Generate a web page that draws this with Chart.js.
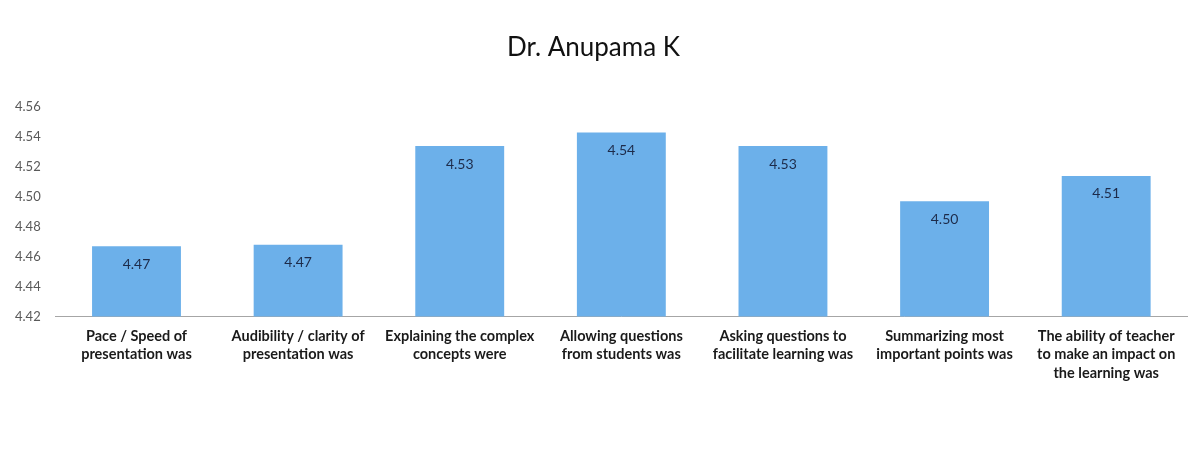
<!DOCTYPE html>
<html>
<head>
<meta charset="utf-8">
<script src="https://cdn.jsdelivr.net/npm/chart.js@4"></script>
<style>
  html, body { margin: 0; padding: 0; background: #fff; }
  #wrap { width: 1201px; height: 471px; }
</style>
</head>
<body>
<div id="wrap"><canvas id="chart" width="1201" height="471"></canvas></div>
<script>
/* ===== data ===== */
var titleText = "Dr. Anupama K";
var categories = [
    ["Pace / Speed of", "presentation was"],
    ["Audibility / clarity of", "presentation was"],
    ["Explaining the complex", "concepts were"],
    ["Allowing questions", "from students was"],
    ["Asking questions to", "facilitate learning was"],
    ["Summarizing most", "important points was"],
    ["The ability of teacher", "to make an impact on", "the learning was"]
];
var scores = [4.467, 4.468, 4.534, 4.543, 4.534, 4.497, 4.514];
var yMin = 4.42;
var yMax = 4.56;
var yStep = 0.02;

/* ===== value labels inside the bars ===== */
var valueLabels = {
    id: 'valueLabels',
    afterDatasetsDraw: function(chart) {
        var ctx = chart.ctx;
        var meta = chart.getDatasetMeta(0);
        ctx.save();
        ctx.font = '14px Lato, "Noto Sans", sans-serif';
        ctx.fillStyle = '#1d2b4a';
        ctx.textAlign = 'center';
        ctx.textBaseline = 'middle';
        meta.data.forEach(function(bar, i) {
            ctx.fillText(scores[i].toFixed(2), bar.x, bar.y + 18);
        });
        ctx.restore();
    }
};

var ctx = document.getElementById("chart");
var chart = new Chart(ctx, {
    type: 'bar',
    data: {
        labels: categories,
        datasets: [{
            label: titleText,
            data: scores,
            backgroundColor: '#6cb0ea',
            borderWidth: 0,
            barPercentage: 0.55,
            categoryPercentage: 1.0
        }]
    },
    options: {
        responsive: false,
        animation: false,
        layout: { padding: { left: 0, right: 14, top: 32, bottom: 78 } },
        plugins: {
            legend: { display: false },
            tooltip: { enabled: false },
            title: {
                display: true,
                text: titleText,
                color: '#111',
                font: { family: 'Lato, "Noto Sans", sans-serif', size: 26, weight: 'normal' },
                padding: { top: 0, bottom: 44 }
            }
        },
        scales: {
            x: {
                grid: { display: false, drawTicks: false },
                border: { display: true, color: '#a6a6a6', width: 1 },
                ticks: {
                    color: '#1a1a1a',
                    font: { family: 'Lato, "Noto Sans", sans-serif', size: 14.5, weight: 'bold', lineHeight: 1.3 },
                    maxRotation: 0,
                    autoSkip: false,
                    padding: 10
                }
            },
            y: {
                min: yMin,
                max: yMax,
                grid: { display: false, drawTicks: false },
                border: { display: false },
                ticks: {
                    stepSize: yStep,
                    color: '#595959',
                    font: { family: 'Lato, "Noto Sans", sans-serif', size: 13 },
                    padding: 15,
                    callback: function(v) { return Number(v).toFixed(2); }
                }
            }
        }
    },
    plugins: [valueLabels]
});
</script>
</body>
</html>
